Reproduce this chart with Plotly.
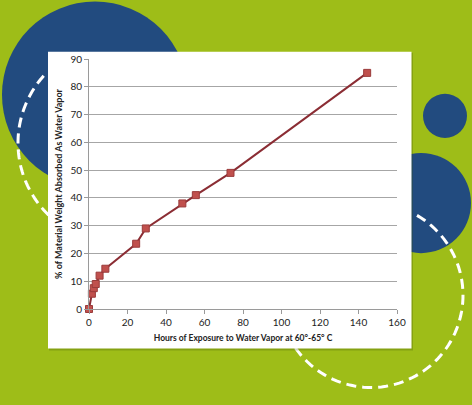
import math
import plotly.graph_objects as go

hours = [0, 1.5, 2.5, 3.5, 5.5, 8.5, 24.5, 29.5, 48.5, 55.5, 73.5, 144.5]
absorbed = [0, 5.5, 7.5, 9, 12, 14.5, 23.5, 29, 38, 41, 49, 85]

x_ticks = [0, 20, 40, 60, 80, 100, 120, 140, 160]
y_ticks = [0, 10, 20, 30, 40, 50, 60, 70, 80, 90]

W, H = 472, 405
L, R, T, B = 89, 397, 59.3, 308.7

def px(x):
    return (x - L) / (R - L)

def py(y):
    return (B - y) / (B - T)

GREEN = "#9ebd18"
BLUE = "#224b7f"

def circle(cx, cy, r, **kw):
    return dict(type="circle", xref="paper", yref="paper",
                x0=px(cx - r), x1=px(cx + r), y0=py(cy + r), y1=py(cy - r),
                layer="below", **kw)

def arc(cx, cy, r, a0, a1, n=80):
    pts = []
    for i in range(n + 1):
        a = math.radians(a0 + (a1 - a0) * i / n)
        pts.append((px(cx + r * math.cos(a)), py(cy + r * math.sin(a))))
    d = "M " + " L ".join(f"{x:.5f},{y:.5f}" for x, y in pts)
    return dict(type="path", xref="paper", yref="paper", path=d, layer="below",
                line=dict(color="white", width=3, dash="10px,6px"))

shapes = [
    circle(95, 95, 93, fillcolor=BLUE, line=dict(width=0)),
    circle(445, 116, 22, fillcolor=BLUE, line=dict(width=0)),
    circle(421, 203, 50, fillcolor=BLUE, line=dict(width=0)),
    arc(118, 143, 100, 222, 110),
    arc(371, 295, 92, -60, 165),
    # card shadow
    dict(type="rect", xref="paper", yref="paper", x0=px(49), x1=px(413), y0=py(350), y1=py(53),
         fillcolor="rgba(60,80,0,0.25)", line=dict(width=0), layer="below"),
    dict(type="rect", xref="paper", yref="paper", x0=px(48), x1=px(411.5), y0=py(348), y1=py(52),
         fillcolor="white", line=dict(width=0), layer="below"),
]

fig = go.Figure()
fig.add_trace(go.Scatter(
    x=hours, y=absorbed, mode="lines+markers",
    line=dict(color="#8b2d34", width=2),
    marker=dict(symbol="square", size=7, color="#c0504d", line=dict(color="#9a3b3b", width=1)),
    showlegend=False, cliponaxis=False,
))

font = "Lato, 'Open Sans', sans-serif"
fig.update_layout(
    width=W, height=H,
    margin=dict(l=L, r=W - R, t=T, b=H - B, pad=0),
    paper_bgcolor=GREEN, plot_bgcolor="rgba(0,0,0,0)",
    shapes=shapes,
    font=dict(family=font, size=9, color="#222"),
    xaxis=dict(range=[0, 160], tickvals=x_ticks, showgrid=False, zeroline=False,
               showline=True, linecolor="#9a9a9a", linewidth=1,
               ticks="outside", ticklen=4, tickcolor="#9a9a9a",
               tickfont=dict(size=10, color="#222"),
               title=dict(text="<b>Hours of Exposure to Water Vapor at 60°-65° C</b>",
                          font=dict(size=8.5, color="#222"), standoff=8)),
    yaxis=dict(range=[0, 90], tickvals=y_ticks, showgrid=True, gridcolor="#a6a6a6", gridwidth=1.2,
               zeroline=False, showline=True, linecolor="#9a9a9a", linewidth=1,
               ticks="outside", ticklen=4, tickcolor="#9a9a9a",
               tickfont=dict(size=10, color="#222"),
               title=dict(text="<b>% of Material Weight Absorbed As Water Vapor</b>",
                          font=dict(size=9, color="#222"), standoff=6)),
)

fig.write_html("out.html", config={"displayModeBar": False},
               post_script="document.body.style.margin='0';document.body.style.overflow='hidden';")
